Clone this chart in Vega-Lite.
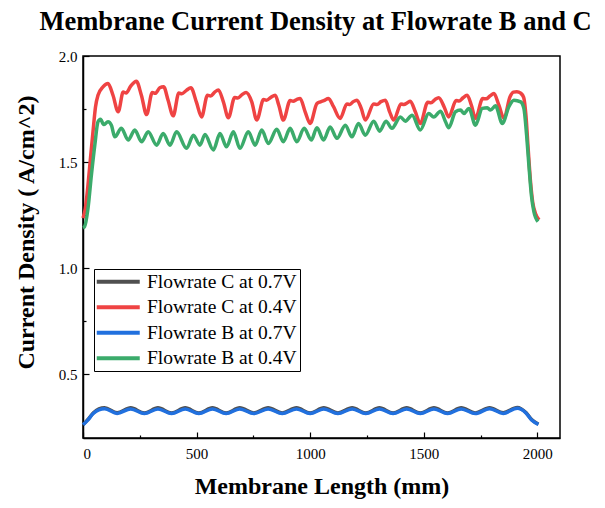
{
  "$schema": "https://vega.github.io/schema/vega-lite/v6.json",
  "width": 477,
  "height": 382,
  "autosize": "none",
  "padding": {"left": 83, "top": 56, "right": 45, "bottom": 70},
  "background": "white",
  "title": {"text": "Membrane Current Density at Flowrate B and C", "font": "Liberation Serif", "fontSize": 26.5, "fontWeight": "bold", "anchor": "middle", "offset": 14, "dx": -6, "color": "black"},
  "config": {
    "view": {"stroke": "black", "strokeWidth": 1.5},
    "axis": {"grid": false, "domainColor": "black", "domainWidth": 1.5, "tickColor": "black", "tickWidth": 1.2, "labelFont": "Liberation Serif", "labelFontSize": 15, "labelColor": "black", "titleFont": "Liberation Serif", "titleFontSize": 24, "titleFontWeight": "bold", "titleColor": "black"}
  },
  "data": {"values": [
    {"s": "Flowrate C at 0.7V", "x": 0, "y": 0.262},
    {"s": "Flowrate C at 0.7V", "x": 20, "y": 0.285},
    {"s": "Flowrate C at 0.7V", "x": 45, "y": 0.318},
    {"s": "Flowrate C at 0.7V", "x": 70, "y": 0.337},
    {"s": "Flowrate C at 0.7V", "x": 95, "y": 0.342},
    {"s": "Flowrate C at 0.7V", "x": 150, "y": 0.319},
    {"s": "Flowrate C at 0.7V", "x": 210, "y": 0.342},
    {"s": "Flowrate C at 0.7V", "x": 270, "y": 0.318},
    {"s": "Flowrate C at 0.7V", "x": 330, "y": 0.342},
    {"s": "Flowrate C at 0.7V", "x": 390, "y": 0.318},
    {"s": "Flowrate C at 0.7V", "x": 450, "y": 0.342},
    {"s": "Flowrate C at 0.7V", "x": 510, "y": 0.318},
    {"s": "Flowrate C at 0.7V", "x": 570, "y": 0.342},
    {"s": "Flowrate C at 0.7V", "x": 630, "y": 0.318},
    {"s": "Flowrate C at 0.7V", "x": 690, "y": 0.342},
    {"s": "Flowrate C at 0.7V", "x": 752, "y": 0.318},
    {"s": "Flowrate C at 0.7V", "x": 815, "y": 0.342},
    {"s": "Flowrate C at 0.7V", "x": 877, "y": 0.318},
    {"s": "Flowrate C at 0.7V", "x": 940, "y": 0.342},
    {"s": "Flowrate C at 0.7V", "x": 1000, "y": 0.318},
    {"s": "Flowrate C at 0.7V", "x": 1060, "y": 0.342},
    {"s": "Flowrate C at 0.7V", "x": 1122, "y": 0.318},
    {"s": "Flowrate C at 0.7V", "x": 1185, "y": 0.342},
    {"s": "Flowrate C at 0.7V", "x": 1245, "y": 0.318},
    {"s": "Flowrate C at 0.7V", "x": 1305, "y": 0.342},
    {"s": "Flowrate C at 0.7V", "x": 1365, "y": 0.318},
    {"s": "Flowrate C at 0.7V", "x": 1425, "y": 0.342},
    {"s": "Flowrate C at 0.7V", "x": 1485, "y": 0.318},
    {"s": "Flowrate C at 0.7V", "x": 1545, "y": 0.342},
    {"s": "Flowrate C at 0.7V", "x": 1605, "y": 0.318},
    {"s": "Flowrate C at 0.7V", "x": 1665, "y": 0.342},
    {"s": "Flowrate C at 0.7V", "x": 1727, "y": 0.318},
    {"s": "Flowrate C at 0.7V", "x": 1790, "y": 0.343},
    {"s": "Flowrate C at 0.7V", "x": 1850, "y": 0.319},
    {"s": "Flowrate C at 0.7V", "x": 1912, "y": 0.344},
    {"s": "Flowrate C at 0.7V", "x": 1950, "y": 0.320},
    {"s": "Flowrate C at 0.7V", "x": 1975, "y": 0.287},
    {"s": "Flowrate C at 0.7V", "x": 2005, "y": 0.265},

    {"s": "Flowrate C at 0.4V", "x": 0, "y": 1.236},
    {"s": "Flowrate C at 0.4V", "x": 10, "y": 1.28},
    {"s": "Flowrate C at 0.4V", "x": 22, "y": 1.392},
    {"s": "Flowrate C at 0.4V", "x": 33, "y": 1.52},
    {"s": "Flowrate C at 0.4V", "x": 44, "y": 1.643},
    {"s": "Flowrate C at 0.4V", "x": 55, "y": 1.76},
    {"s": "Flowrate C at 0.4V", "x": 66, "y": 1.815},
    {"s": "Flowrate C at 0.4V", "x": 88, "y": 1.854},
    {"s": "Flowrate C at 0.4V", "x": 110, "y": 1.870},
    {"s": "Flowrate C at 0.4V", "x": 132, "y": 1.815},
    {"s": "Flowrate C at 0.4V", "x": 155, "y": 1.737},
    {"s": "Flowrate C at 0.4V", "x": 177, "y": 1.830},
    {"s": "Flowrate C at 0.4V", "x": 190, "y": 1.826},
    {"s": "Flowrate C at 0.4V", "x": 210, "y": 1.858},
    {"s": "Flowrate C at 0.4V", "x": 235, "y": 1.881},
    {"s": "Flowrate C at 0.4V", "x": 257, "y": 1.815},
    {"s": "Flowrate C at 0.4V", "x": 280, "y": 1.724},
    {"s": "Flowrate C at 0.4V", "x": 305, "y": 1.828},
    {"s": "Flowrate C at 0.4V", "x": 318, "y": 1.824},
    {"s": "Flowrate C at 0.4V", "x": 338, "y": 1.850},
    {"s": "Flowrate C at 0.4V", "x": 355, "y": 1.855},
    {"s": "Flowrate C at 0.4V", "x": 375, "y": 1.79},
    {"s": "Flowrate C at 0.4V", "x": 397, "y": 1.718},
    {"s": "Flowrate C at 0.4V", "x": 422, "y": 1.826},
    {"s": "Flowrate C at 0.4V", "x": 435, "y": 1.822},
    {"s": "Flowrate C at 0.4V", "x": 455, "y": 1.838},
    {"s": "Flowrate C at 0.4V", "x": 475, "y": 1.850},
    {"s": "Flowrate C at 0.4V", "x": 500, "y": 1.78},
    {"s": "Flowrate C at 0.4V", "x": 522, "y": 1.713},
    {"s": "Flowrate C at 0.4V", "x": 548, "y": 1.815},
    {"s": "Flowrate C at 0.4V", "x": 562, "y": 1.812},
    {"s": "Flowrate C at 0.4V", "x": 580, "y": 1.830},
    {"s": "Flowrate C at 0.4V", "x": 596, "y": 1.840},
    {"s": "Flowrate C at 0.4V", "x": 618, "y": 1.784},
    {"s": "Flowrate C at 0.4V", "x": 640, "y": 1.709},
    {"s": "Flowrate C at 0.4V", "x": 668, "y": 1.805},
    {"s": "Flowrate C at 0.4V", "x": 682, "y": 1.802},
    {"s": "Flowrate C at 0.4V", "x": 700, "y": 1.818},
    {"s": "Flowrate C at 0.4V", "x": 718, "y": 1.828},
    {"s": "Flowrate C at 0.4V", "x": 743, "y": 1.784},
    {"s": "Flowrate C at 0.4V", "x": 765, "y": 1.698},
    {"s": "Flowrate C at 0.4V", "x": 795, "y": 1.795},
    {"s": "Flowrate C at 0.4V", "x": 808, "y": 1.792},
    {"s": "Flowrate C at 0.4V", "x": 828, "y": 1.806},
    {"s": "Flowrate C at 0.4V", "x": 846, "y": 1.815},
    {"s": "Flowrate C at 0.4V", "x": 862, "y": 1.768},
    {"s": "Flowrate C at 0.4V", "x": 882, "y": 1.698},
    {"s": "Flowrate C at 0.4V", "x": 912, "y": 1.790},
    {"s": "Flowrate C at 0.4V", "x": 925, "y": 1.787},
    {"s": "Flowrate C at 0.4V", "x": 942, "y": 1.796},
    {"s": "Flowrate C at 0.4V", "x": 956, "y": 1.800},
    {"s": "Flowrate C at 0.4V", "x": 978, "y": 1.737},
    {"s": "Flowrate C at 0.4V", "x": 1000, "y": 1.682},
    {"s": "Flowrate C at 0.4V", "x": 1030, "y": 1.776},
    {"s": "Flowrate C at 0.4V", "x": 1045, "y": 1.784},
    {"s": "Flowrate C at 0.4V", "x": 1060, "y": 1.790},
    {"s": "Flowrate C at 0.4V", "x": 1081, "y": 1.800},
    {"s": "Flowrate C at 0.4V", "x": 1103, "y": 1.761},
    {"s": "Flowrate C at 0.4V", "x": 1132, "y": 1.706},
    {"s": "Flowrate C at 0.4V", "x": 1162, "y": 1.774},
    {"s": "Flowrate C at 0.4V", "x": 1175, "y": 1.772},
    {"s": "Flowrate C at 0.4V", "x": 1190, "y": 1.785},
    {"s": "Flowrate C at 0.4V", "x": 1206, "y": 1.792},
    {"s": "Flowrate C at 0.4V", "x": 1225, "y": 1.753},
    {"s": "Flowrate C at 0.4V", "x": 1243, "y": 1.698},
    {"s": "Flowrate C at 0.4V", "x": 1280, "y": 1.774},
    {"s": "Flowrate C at 0.4V", "x": 1295, "y": 1.772},
    {"s": "Flowrate C at 0.4V", "x": 1312, "y": 1.785},
    {"s": "Flowrate C at 0.4V", "x": 1331, "y": 1.792},
    {"s": "Flowrate C at 0.4V", "x": 1350, "y": 1.737},
    {"s": "Flowrate C at 0.4V", "x": 1368, "y": 1.698},
    {"s": "Flowrate C at 0.4V", "x": 1400, "y": 1.774},
    {"s": "Flowrate C at 0.4V", "x": 1413, "y": 1.771},
    {"s": "Flowrate C at 0.4V", "x": 1428, "y": 1.780},
    {"s": "Flowrate C at 0.4V", "x": 1441, "y": 1.787},
    {"s": "Flowrate C at 0.4V", "x": 1463, "y": 1.737},
    {"s": "Flowrate C at 0.4V", "x": 1485, "y": 1.682},
    {"s": "Flowrate C at 0.4V", "x": 1518, "y": 1.782},
    {"s": "Flowrate C at 0.4V", "x": 1532, "y": 1.780},
    {"s": "Flowrate C at 0.4V", "x": 1550, "y": 1.795},
    {"s": "Flowrate C at 0.4V", "x": 1566, "y": 1.803},
    {"s": "Flowrate C at 0.4V", "x": 1590, "y": 1.760},
    {"s": "Flowrate C at 0.4V", "x": 1610, "y": 1.713},
    {"s": "Flowrate C at 0.4V", "x": 1643, "y": 1.790},
    {"s": "Flowrate C at 0.4V", "x": 1656, "y": 1.788},
    {"s": "Flowrate C at 0.4V", "x": 1672, "y": 1.802},
    {"s": "Flowrate C at 0.4V", "x": 1691, "y": 1.815},
    {"s": "Flowrate C at 0.4V", "x": 1710, "y": 1.768},
    {"s": "Flowrate C at 0.4V", "x": 1728, "y": 1.706},
    {"s": "Flowrate C at 0.4V", "x": 1760, "y": 1.800},
    {"s": "Flowrate C at 0.4V", "x": 1775, "y": 1.798},
    {"s": "Flowrate C at 0.4V", "x": 1792, "y": 1.812},
    {"s": "Flowrate C at 0.4V", "x": 1809, "y": 1.823},
    {"s": "Flowrate C at 0.4V", "x": 1831, "y": 1.768},
    {"s": "Flowrate C at 0.4V", "x": 1853, "y": 1.706},
    {"s": "Flowrate C at 0.4V", "x": 1880, "y": 1.808},
    {"s": "Flowrate C at 0.4V", "x": 1895, "y": 1.830},
    {"s": "Flowrate C at 0.4V", "x": 1910, "y": 1.832},
    {"s": "Flowrate C at 0.4V", "x": 1927, "y": 1.825},
    {"s": "Flowrate C at 0.4V", "x": 1940, "y": 1.805},
    {"s": "Flowrate C at 0.4V", "x": 1950, "y": 1.72},
    {"s": "Flowrate C at 0.4V", "x": 1960, "y": 1.56},
    {"s": "Flowrate C at 0.4V", "x": 1970, "y": 1.41},
    {"s": "Flowrate C at 0.4V", "x": 1980, "y": 1.31},
    {"s": "Flowrate C at 0.4V", "x": 1992, "y": 1.258},
    {"s": "Flowrate C at 0.4V", "x": 2008, "y": 1.228},

    {"s": "Flowrate B at 0.7V", "x": 0, "y": 0.262},
    {"s": "Flowrate B at 0.7V", "x": 20, "y": 0.283},
    {"s": "Flowrate B at 0.7V", "x": 45, "y": 0.315},
    {"s": "Flowrate B at 0.7V", "x": 70, "y": 0.333},
    {"s": "Flowrate B at 0.7V", "x": 95, "y": 0.338},
    {"s": "Flowrate B at 0.7V", "x": 150, "y": 0.316},
    {"s": "Flowrate B at 0.7V", "x": 210, "y": 0.337},
    {"s": "Flowrate B at 0.7V", "x": 270, "y": 0.315},
    {"s": "Flowrate B at 0.7V", "x": 330, "y": 0.337},
    {"s": "Flowrate B at 0.7V", "x": 390, "y": 0.315},
    {"s": "Flowrate B at 0.7V", "x": 450, "y": 0.337},
    {"s": "Flowrate B at 0.7V", "x": 510, "y": 0.315},
    {"s": "Flowrate B at 0.7V", "x": 570, "y": 0.337},
    {"s": "Flowrate B at 0.7V", "x": 630, "y": 0.315},
    {"s": "Flowrate B at 0.7V", "x": 690, "y": 0.337},
    {"s": "Flowrate B at 0.7V", "x": 752, "y": 0.315},
    {"s": "Flowrate B at 0.7V", "x": 815, "y": 0.337},
    {"s": "Flowrate B at 0.7V", "x": 877, "y": 0.315},
    {"s": "Flowrate B at 0.7V", "x": 940, "y": 0.337},
    {"s": "Flowrate B at 0.7V", "x": 1000, "y": 0.315},
    {"s": "Flowrate B at 0.7V", "x": 1060, "y": 0.337},
    {"s": "Flowrate B at 0.7V", "x": 1122, "y": 0.315},
    {"s": "Flowrate B at 0.7V", "x": 1185, "y": 0.337},
    {"s": "Flowrate B at 0.7V", "x": 1245, "y": 0.315},
    {"s": "Flowrate B at 0.7V", "x": 1305, "y": 0.337},
    {"s": "Flowrate B at 0.7V", "x": 1365, "y": 0.315},
    {"s": "Flowrate B at 0.7V", "x": 1425, "y": 0.337},
    {"s": "Flowrate B at 0.7V", "x": 1485, "y": 0.315},
    {"s": "Flowrate B at 0.7V", "x": 1545, "y": 0.337},
    {"s": "Flowrate B at 0.7V", "x": 1605, "y": 0.315},
    {"s": "Flowrate B at 0.7V", "x": 1665, "y": 0.337},
    {"s": "Flowrate B at 0.7V", "x": 1727, "y": 0.315},
    {"s": "Flowrate B at 0.7V", "x": 1790, "y": 0.338},
    {"s": "Flowrate B at 0.7V", "x": 1850, "y": 0.316},
    {"s": "Flowrate B at 0.7V", "x": 1912, "y": 0.340},
    {"s": "Flowrate B at 0.7V", "x": 1950, "y": 0.318},
    {"s": "Flowrate B at 0.7V", "x": 1975, "y": 0.285},
    {"s": "Flowrate B at 0.7V", "x": 2005, "y": 0.264},

    {"s": "Flowrate B at 0.4V", "x": 0, "y": 1.19},
    {"s": "Flowrate B at 0.4V", "x": 7, "y": 1.196},
    {"s": "Flowrate B at 0.4V", "x": 22, "y": 1.282},
    {"s": "Flowrate B at 0.4V", "x": 37, "y": 1.439},
    {"s": "Flowrate B at 0.4V", "x": 52, "y": 1.580},
    {"s": "Flowrate B at 0.4V", "x": 66, "y": 1.690},
    {"s": "Flowrate B at 0.4V", "x": 77, "y": 1.702},
    {"s": "Flowrate B at 0.4V", "x": 91, "y": 1.677},
    {"s": "Flowrate B at 0.4V", "x": 110, "y": 1.690},
    {"s": "Flowrate B at 0.4V", "x": 125, "y": 1.674},
    {"s": "Flowrate B at 0.4V", "x": 140, "y": 1.619},
    {"s": "Flowrate B at 0.4V", "x": 169, "y": 1.659},
    {"s": "Flowrate B at 0.4V", "x": 199, "y": 1.604},
    {"s": "Flowrate B at 0.4V", "x": 228, "y": 1.651},
    {"s": "Flowrate B at 0.4V", "x": 258, "y": 1.596},
    {"s": "Flowrate B at 0.4V", "x": 287, "y": 1.643},
    {"s": "Flowrate B at 0.4V", "x": 324, "y": 1.580},
    {"s": "Flowrate B at 0.4V", "x": 353, "y": 1.635},
    {"s": "Flowrate B at 0.4V", "x": 383, "y": 1.580},
    {"s": "Flowrate B at 0.4V", "x": 412, "y": 1.643},
    {"s": "Flowrate B at 0.4V", "x": 456, "y": 1.565},
    {"s": "Flowrate B at 0.4V", "x": 486, "y": 1.627},
    {"s": "Flowrate B at 0.4V", "x": 515, "y": 1.580},
    {"s": "Flowrate B at 0.4V", "x": 537, "y": 1.630},
    {"s": "Flowrate B at 0.4V", "x": 574, "y": 1.557},
    {"s": "Flowrate B at 0.4V", "x": 603, "y": 1.635},
    {"s": "Flowrate B at 0.4V", "x": 632, "y": 1.572},
    {"s": "Flowrate B at 0.4V", "x": 662, "y": 1.643},
    {"s": "Flowrate B at 0.4V", "x": 691, "y": 1.565},
    {"s": "Flowrate B at 0.4V", "x": 728, "y": 1.643},
    {"s": "Flowrate B at 0.4V", "x": 758, "y": 1.580},
    {"s": "Flowrate B at 0.4V", "x": 787, "y": 1.651},
    {"s": "Flowrate B at 0.4V", "x": 816, "y": 1.588},
    {"s": "Flowrate B at 0.4V", "x": 853, "y": 1.655},
    {"s": "Flowrate B at 0.4V", "x": 882, "y": 1.596},
    {"s": "Flowrate B at 0.4V", "x": 912, "y": 1.659},
    {"s": "Flowrate B at 0.4V", "x": 941, "y": 1.596},
    {"s": "Flowrate B at 0.4V", "x": 974, "y": 1.659},
    {"s": "Flowrate B at 0.4V", "x": 1005, "y": 1.604},
    {"s": "Flowrate B at 0.4V", "x": 1030, "y": 1.662},
    {"s": "Flowrate B at 0.4V", "x": 1059, "y": 1.604},
    {"s": "Flowrate B at 0.4V", "x": 1088, "y": 1.666},
    {"s": "Flowrate B at 0.4V", "x": 1118, "y": 1.612},
    {"s": "Flowrate B at 0.4V", "x": 1155, "y": 1.674},
    {"s": "Flowrate B at 0.4V", "x": 1184, "y": 1.619},
    {"s": "Flowrate B at 0.4V", "x": 1213, "y": 1.682},
    {"s": "Flowrate B at 0.4V", "x": 1243, "y": 1.627},
    {"s": "Flowrate B at 0.4V", "x": 1280, "y": 1.693},
    {"s": "Flowrate B at 0.4V", "x": 1306, "y": 1.646},
    {"s": "Flowrate B at 0.4V", "x": 1334, "y": 1.693},
    {"s": "Flowrate B at 0.4V", "x": 1360, "y": 1.659},
    {"s": "Flowrate B at 0.4V", "x": 1397, "y": 1.713},
    {"s": "Flowrate B at 0.4V", "x": 1419, "y": 1.693},
    {"s": "Flowrate B at 0.4V", "x": 1449, "y": 1.721},
    {"s": "Flowrate B at 0.4V", "x": 1485, "y": 1.651},
    {"s": "Flowrate B at 0.4V", "x": 1522, "y": 1.729},
    {"s": "Flowrate B at 0.4V", "x": 1544, "y": 1.713},
    {"s": "Flowrate B at 0.4V", "x": 1574, "y": 1.740},
    {"s": "Flowrate B at 0.4V", "x": 1596, "y": 1.690},
    {"s": "Flowrate B at 0.4V", "x": 1610, "y": 1.662},
    {"s": "Flowrate B at 0.4V", "x": 1640, "y": 1.737},
    {"s": "Flowrate B at 0.4V", "x": 1662, "y": 1.745},
    {"s": "Flowrate B at 0.4V", "x": 1677, "y": 1.729},
    {"s": "Flowrate B at 0.4V", "x": 1699, "y": 1.753},
    {"s": "Flowrate B at 0.4V", "x": 1728, "y": 1.674},
    {"s": "Flowrate B at 0.4V", "x": 1758, "y": 1.753},
    {"s": "Flowrate B at 0.4V", "x": 1780, "y": 1.756},
    {"s": "Flowrate B at 0.4V", "x": 1794, "y": 1.745},
    {"s": "Flowrate B at 0.4V", "x": 1816, "y": 1.765},
    {"s": "Flowrate B at 0.4V", "x": 1846, "y": 1.682},
    {"s": "Flowrate B at 0.4V", "x": 1875, "y": 1.761},
    {"s": "Flowrate B at 0.4V", "x": 1897, "y": 1.792},
    {"s": "Flowrate B at 0.4V", "x": 1927, "y": 1.784},
    {"s": "Flowrate B at 0.4V", "x": 1941, "y": 1.753},
    {"s": "Flowrate B at 0.4V", "x": 1953, "y": 1.627},
    {"s": "Flowrate B at 0.4V", "x": 1963, "y": 1.486},
    {"s": "Flowrate B at 0.4V", "x": 1974, "y": 1.345},
    {"s": "Flowrate B at 0.4V", "x": 1985, "y": 1.267},
    {"s": "Flowrate B at 0.4V", "x": 2003, "y": 1.220}
  ]},
  "layer": [
    {
      "transform": [{"filter": {"field": "s", "oneOf": ["Flowrate C at 0.7V", "Flowrate C at 0.4V"]}}],
      "mark": {"type": "line", "interpolate": "monotone", "strokeWidth": 3.5},
      "encoding": {
        "x": {"field": "x", "type": "quantitative", "scale": {"domain": [0, 2100], "nice": false}, "axis": {"orient": "bottom", "values": [0, 500, 1000, 1500, 2000], "format": "d", "tickSize": -6, "labelPadding": 14, "title": "Membrane Length (mm)", "titlePadding": 13}},
        "y": {"field": "y", "type": "quantitative", "scale": {"domain": [0.2, 2.0], "nice": false, "zero": false}, "axis": {"orient": "left", "values": [0.5, 1.0, 1.5, 2.0], "format": ".1f", "tickSize": -6, "labelPadding": 12, "title": "Current Density ( A/cm^2)", "titlePadding": 20, "titleY": 176}},
        "color": {"field": "s", "type": "nominal",
          "scale": {"domain": ["Flowrate C at 0.7V", "Flowrate C at 0.4V", "Flowrate B at 0.7V", "Flowrate B at 0.4V"], "range": ["#505050", "#ef4343", "#2170de", "#3bab6b"]},
          "legend": {"title": null, "orient": "none", "legendX": 11, "legendY": 213, "strokeColor": "black", "padding": 3, "symbolType": "M-4.3,0H4.3", "symbolSize": 100, "symbolOffset": 11.5, "symbolStrokeWidth": 4, "labelFont": "Liberation Serif", "labelFontSize": 19.5, "labelColor": "black", "labelLimit": 300, "labelOffset": 19, "rowPadding": 4.5}}
      }
    },
    {
      "transform": [{"filter": {"field": "s", "oneOf": ["Flowrate B at 0.7V", "Flowrate B at 0.4V"]}}],
      "mark": {"type": "line", "interpolate": "monotone", "strokeWidth": 3.5},
      "encoding": {
        "x": {"field": "x", "type": "quantitative", "axis": {"orient": "bottom", "values": [250, 750, 1250, 1750], "labels": false, "domain": false, "tickSize": -3, "title": null}},
        "y": {"field": "y", "type": "quantitative", "axis": {"orient": "left", "values": [0.75, 1.25, 1.75], "labels": false, "domain": false, "tickSize": -3, "title": null}},
        "color": {"field": "s", "type": "nominal"}
      }
    }
  ],
  "resolve": {"axis": {"x": "independent", "y": "independent"}}
}
